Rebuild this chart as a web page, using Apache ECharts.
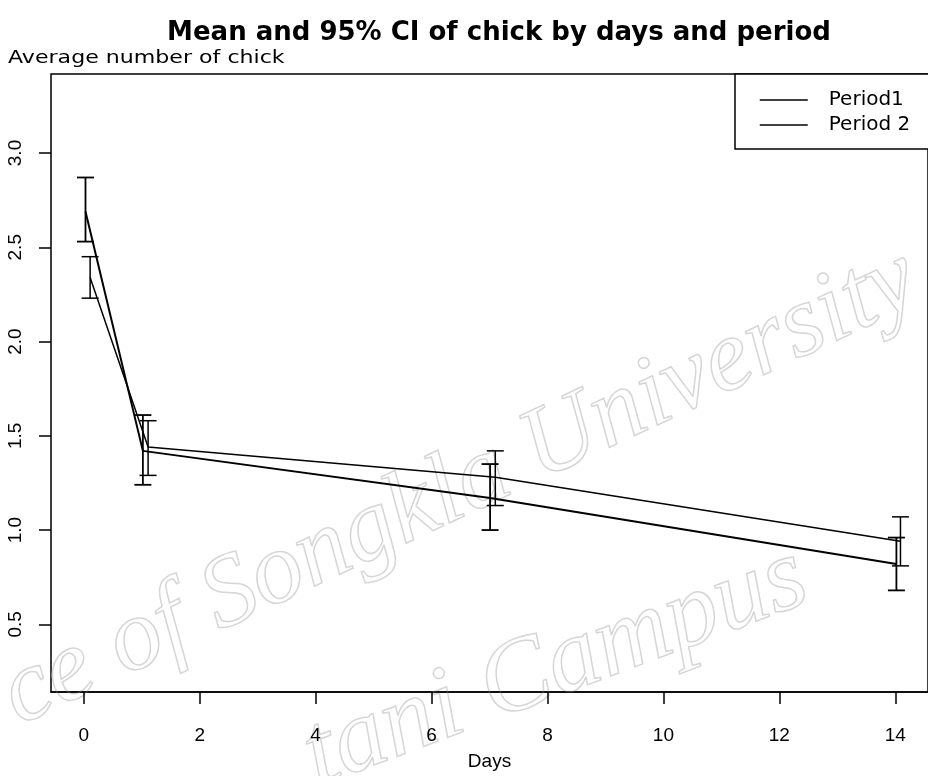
<!DOCTYPE html>
<html>
<head>
<meta charset="utf-8">
<script src="https://cdn.jsdelivr.net/npm/echarts@6/dist/echarts.min.js"></script>
<style>html,body{margin:0;padding:0;background:#fff;}#chart{width:928px;height:776px;}</style>
</head>
<body>
<div id="chart"></div>
<script>
// ---- data ----
const seriesNames = ['Period1', 'Period 2'];
const xTickValues = [0, 2, 4, 6, 8, 10, 12, 14];
const yTickValues = [0.5, 1.0, 1.5, 2.0, 2.5, 3.0];
const days = [0, 1, 7, 14];
// plotted (slightly jittered) x positions
const xPeriod1 = [0.03, 1.02, 7.01, 14.02];
const xPeriod2 = [0.11, 1.11, 7.10, 14.09];
const meanPeriod1 = [2.69, 1.42, 1.17, 0.82];
const lowPeriod1  = [2.53, 1.24, 1.00, 0.68];
const highPeriod1 = [2.87, 1.61, 1.35, 0.96];
const meanPeriod2 = [2.34, 1.44, 1.28, 0.94];
const lowPeriod2  = [2.23, 1.29, 1.13, 0.81];
const highPeriod2 = [2.45, 1.58, 1.42, 1.07];

const X_MIN = -0.565, X_MAX = 14.565, Y_MIN = 0.141, Y_MAX = 3.419;

const chart = echarts.init(document.getElementById('chart'), null, {renderer: 'canvas'});

function errorBars(lw) {
  return function (params, api) {
    const x = api.value(0), lo = api.value(1), hi = api.value(2);
    const pTop = api.coord([x, hi]);
    const pBot = api.coord([x, lo]);
    const w = 8.5;
    const st = {stroke: '#000', lineWidth: lw};
    return {
      type: 'group',
      children: [
        {type: 'line', shape: {x1: pTop[0], y1: pTop[1], x2: pBot[0], y2: pBot[1]}, style: st},
        {type: 'line', shape: {x1: pTop[0] - w, y1: pTop[1], x2: pTop[0] + w, y2: pTop[1]}, style: st},
        {type: 'line', shape: {x1: pBot[0] - w, y1: pBot[1], x2: pBot[0] + w, y2: pBot[1]}, style: st}
      ]
    };
  };
}

const option = {
  backgroundColor: '#fff',
  animation: false,
  title: {
    text: 'Mean and 95% CI of chick by days and period',
    left: 494, top: 15, textAlign: 'center',
    textStyle: {fontFamily: 'DejaVu Sans', fontWeight: 'bold', fontSize: 26, color: '#000'}
  },
  legend: {
    data: seriesNames,
    orient: 'vertical',
    left: 735, top: 74,
    itemWidth: 48, itemHeight: 18, itemGap: 5,
    padding: [16, 240, 14, 24],
    borderColor: '#000', borderWidth: 1.5, borderRadius: 0,
    backgroundColor: '#fff',
    itemStyle: {color: 'transparent', borderWidth: 0, opacity: 0},
    lineStyle: {color: '#000', width: 1.5, opacity: 1},
    textStyle: {fontFamily: 'DejaVu Sans', fontSize: 20, color: '#000', padding: [0, 0, 0, 16]}
  },
  grid: {
    left: 51, top: 74, right: -6, bottom: 75,
    show: true, borderColor: '#000', borderWidth: 1.5, backgroundColor: 'transparent'
  },
  xAxis: [{
    type: 'value', min: X_MIN, max: X_MAX,
    name: 'Days', nameLocation: 'middle', nameGap: 60,
    nameTextStyle: {fontFamily: 'Liberation Sans', fontSize: 19, color: '#000'},
    axisLine: {show: true, lineStyle: {color: '#000', width: 1.5}},
    splitLine: {show: false},
    axisTick: {show: true, customValues: xTickValues, length: 12, lineStyle: {color: '#000', width: 1.5}},
    axisLabel: {customValues: xTickValues, margin: 34, fontFamily: 'Liberation Sans', fontSize: 19, color: '#000'}
  }, {
    // helper axis (no data): its zero sits on the left edge, so the y axis is drawn there
    type: 'value', min: 0, max: 1, show: false
  }],
  yAxis: {
    type: 'value', min: Y_MIN, max: Y_MAX,
    axisLine: {show: false, onZero: true, onZeroAxisIndex: 1},
    splitLine: {show: false},
    axisTick: {show: true, customValues: yTickValues, length: 12, lineStyle: {color: '#000', width: 1.5}},
    axisLabel: {customValues: yTickValues, rotate: 90, margin: 26, fontFamily: 'Liberation Sans', fontSize: 19, color: '#000',
      formatter: v => v.toFixed(1)}
  },
  graphic: [
    {type: 'text', x: 8, y: 50, scaleX: 1.3, z: 10,
      style: {text: 'Average number of chick', font: '17px "DejaVu Sans"', fill: '#000', textBaseline: 'top'}},
    {type: 'text', x: -14, y: 655, rotation: 0.44, z: 0, silent: true,
      style: {text: 'ce of Songkla University', font: 'italic 102px "Liberation Serif"', fill: 'rgba(0,0,0,0)', stroke: '#d6d6d6', lineWidth: 1.5, textBaseline: 'alphabetic'}},
    {type: 'text', x: 290, y: 712, rotation: 0.36, z: 0, silent: true,
      style: {text: 'tani Campus', font: 'italic 104px "Liberation Serif"', fill: 'rgba(0,0,0,0)', stroke: '#d6d6d6', lineWidth: 1.5, textBaseline: 'alphabetic'}}
  ],
  series: [
    {
      name: seriesNames[0], type: 'line', symbol: 'none', z: 5, xAxisIndex: 0,
      lineStyle: {color: '#000', width: 2},
      itemStyle: {color: '#000'},
      data: xPeriod1.map((x, i) => [x, meanPeriod1[i]])
    },
    {
      name: seriesNames[1], type: 'line', symbol: 'none', z: 5, xAxisIndex: 0,
      lineStyle: {color: '#000', width: 1.5},
      itemStyle: {color: '#000'},
      data: xPeriod2.map((x, i) => [x, meanPeriod2[i]])
    },
    {
      name: seriesNames[0] + ' CI', type: 'custom', z: 6, xAxisIndex: 0,
      renderItem: errorBars(1.8),
      encode: {x: 0, y: [1, 2]},
      data: xPeriod1.map((x, i) => [x, lowPeriod1[i], highPeriod1[i]])
    },
    {
      name: seriesNames[1] + ' CI', type: 'custom', z: 6, xAxisIndex: 0,
      renderItem: errorBars(1.5),
      encode: {x: 0, y: [1, 2]},
      data: xPeriod2.map((x, i) => [x, lowPeriod2[i], highPeriod2[i]])
    }
  ]
};
chart.setOption(option);
</script>
</body>
</html>
